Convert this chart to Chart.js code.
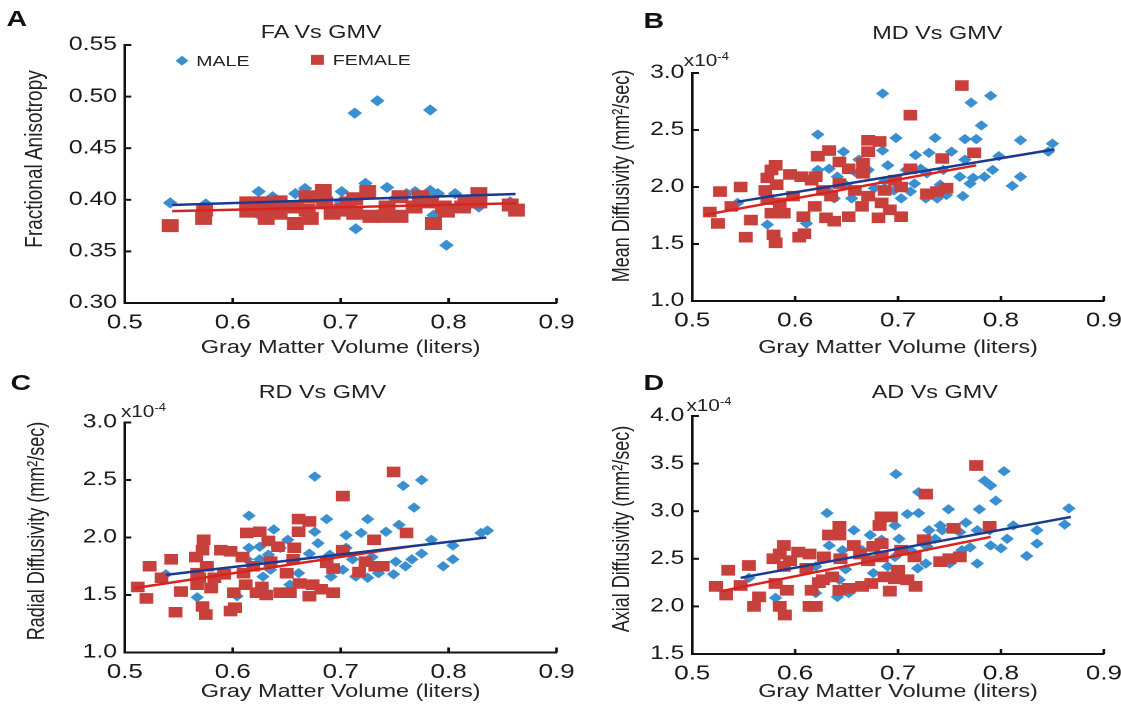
<!DOCTYPE html>
<html lang="en">
<head>
    <meta charset="UTF-8">
    <title>DTI metrics vs Gray Matter Volume</title>
    <script src="https://cdn.jsdelivr.net/npm/chart.js"></script>
    <style>
        html, body {
            margin: 0;
            padding: 0;
            background: #fff;
            overflow: hidden;
        }
        /* the original figure is stretched sideways, so draw narrow and widen */
        #fig {
            position: absolute;
            left: 0;
            top: 0;
            width: 862px;
            height: 708px;
            transform: scaleX(1.3);
            transform-origin: 0 0;
            font-family: 'Liberation Sans', Arial, sans-serif;
            color: #222;
        }
        .panel { position: absolute; }
        .letter {
            position: absolute;
            font-size: 22px;
            font-weight: bold;
            color: #111;
            line-height: 1;
        }
        .title {
            position: absolute;
            width: 200px;
            text-align: center;
            font-size: 18px;
            line-height: 1;
        }
        .ytitle {
            position: absolute;
            width: 300px;
            text-align: center;
            font-size: 18px;
            line-height: 1;
            white-space: nowrap;
            transform: translate(-50%, -50%) rotate(-90deg);
        }
        .expo {
            position: absolute;
            font-size: 16px;
            line-height: 1;
        }
        .expo sup { font-size: 10px; }
        .lg {
            position: absolute;
            font-size: 15px;
            line-height: 1;
        }
        .mk {
            position: absolute;
            font-family: 'DejaVu Sans', sans-serif;
            font-size: 13px;
            line-height: 1;
        }
    </style>
</head>
<body>
<div id="fig">
    <!-- Panels -->
    <div class="panel" style="left:0;top:0;width:450px;height:362px"><canvas id="chartA"></canvas></div>
    <div class="panel" style="left:430.8px;top:0;width:440px;height:362px"><canvas id="chartB"></canvas></div>
    <div class="panel" style="left:0;top:340px;width:450px;height:368px"><canvas id="chartC"></canvas></div>
    <div class="panel" style="left:430.8px;top:340px;width:440px;height:368px"><canvas id="chartD"></canvas></div>

    <!-- Letters and titles -->
    <div class="letter" style="left:5px;top:8px">A</div>
    <div class="letter" style="left:495px;top:10px">B</div>
    <div class="letter" style="left:8px;top:372px">C</div>
    <div class="letter" style="left:495px;top:372px">D</div>

    <div class="title" style="left:147px;top:23px">FA Vs GMV</div>
    <div class="title" style="left:621px;top:24px">MD Vs GMV</div>
    <div class="title" style="left:148px;top:383px">RD Vs GMV</div>
    <div class="title" style="left:619px;top:383px">AD Vs GMV</div>

    <!-- y axis titles -->
    <div class="ytitle" style="left:25.5px;top:159px;font-size:19px">Fractional Anisotropy</div>
    <div class="ytitle" style="left:477.5px;top:176px">Mean Diffusivity (mm²/sec)</div>
    <div class="ytitle" style="left:27.5px;top:531px">Radial Diffusivity (mm²/sec)</div>
    <div class="ytitle" style="left:477.5px;top:529px">Axial Diffusivity (mm²/sec)</div>

    <div class="expo" style="left:526px;top:52px">x10<sup>-4</sup></div>
    <div class="expo" style="left:93px;top:403px">x10<sup>-4</sup></div>
    <div class="expo" style="left:528px;top:397px">x10<sup>-4</sup></div>

    <!-- Legend of panel A -->
    <div class="mk" style="left:135px;top:53px;color:#3a8fd1">◆</div>
    <div class="lg" style="left:151px;top:53px">MALE</div>
    <div class="mk" style="left:238px;top:52px;color:#c8403c">■</div>
    <div class="lg" style="left:256px;top:52px">FEMALE</div>
</div>

<script>
    // ---- Panel A: FA vs GMV ----
    const maleFA = [
        [0.542, 0.397], [0.575, 0.396], [0.624, 0.408], [0.637, 0.403], [0.658, 0.406], [0.667, 0.411],
        [0.701, 0.408], [0.723, 0.416], [0.743, 0.412], [0.761, 0.406], [0.769, 0.408], [0.783, 0.409],
        [0.790, 0.406], [0.806, 0.406], [0.828, 0.393], [0.857, 0.398], [0.626, 0.384], [0.716, 0.389],
        [0.786, 0.385], [0.714, 0.372], [0.798, 0.356], [0.713, 0.484], [0.734, 0.496], [0.783, 0.487],
        [0.680, 0.400], [0.750, 0.401], [0.700, 0.398], [0.820, 0.400]
    ];
    const femaleFA = [
        [0.542, 0.375], [0.573, 0.382], [0.574, 0.390], [0.614, 0.397], [0.614, 0.389], [0.628, 0.397],
        [0.628, 0.389], [0.643, 0.398], [0.643, 0.387], [0.658, 0.393], [0.658, 0.377], [0.669, 0.403],
        [0.669, 0.390], [0.684, 0.409], [0.685, 0.397], [0.692, 0.387], [0.707, 0.397], [0.713, 0.401],
        [0.725, 0.408], [0.728, 0.384], [0.743, 0.393], [0.740, 0.384], [0.755, 0.403], [0.755, 0.384],
        [0.768, 0.393], [0.774, 0.403], [0.786, 0.377], [0.795, 0.393], [0.798, 0.389], [0.816, 0.398],
        [0.828, 0.406], [0.828, 0.398], [0.857, 0.395], [0.863, 0.390], [0.813, 0.393], [0.701, 0.390],
        [0.672, 0.382], [0.713, 0.387], [0.631, 0.382], [0.783, 0.398]
    ];
    const maleFitFA = [[0.544, 0.395], [0.862, 0.4056]];
    const femaleFitFA = [[0.544, 0.389], [0.863, 0.3966]];
    const faTicks = [0.30, 0.35, 0.40, 0.45, 0.50, 0.55];

    // ---- Panel B: MD vs GMV (x10^-4) ----
    const maleMD = [
        [0.685, 2.82], [0.790, 2.80], [0.771, 2.74], [0.781, 2.54], [0.622, 2.46], [0.698, 2.43],
        [0.736, 2.43], [0.765, 2.42], [0.776, 2.42], [0.819, 2.41], [0.850, 2.38], [0.846, 2.31],
        [0.647, 2.31], [0.685, 2.32], [0.662, 2.24], [0.690, 2.19], [0.717, 2.28], [0.730, 2.30],
        [0.752, 2.31], [0.765, 2.24], [0.798, 2.27], [0.622, 2.15], [0.633, 2.16], [0.641, 2.09],
        [0.660, 2.12], [0.671, 2.15], [0.708, 2.15], [0.722, 2.16], [0.728, 2.12], [0.744, 2.15],
        [0.760, 2.09], [0.773, 2.08], [0.784, 2.09], [0.792, 2.15], [0.819, 2.09], [0.811, 2.01],
        [0.716, 2.03], [0.741, 2.02], [0.747, 1.93], [0.763, 1.92], [0.738, 1.90], [0.727, 1.90],
        [0.712, 1.96], [0.696, 1.97], [0.687, 2.05], [0.649, 2.02], [0.638, 1.90], [0.633, 1.96],
        [0.614, 2.06], [0.611, 1.68], [0.573, 1.67], [0.544, 1.86], [0.655, 1.90], [0.703, 1.90],
        [0.770, 2.03], [0.677, 1.99]
    ];
    const femaleMD = [
        [0.762, 2.89], [0.712, 2.63], [0.671, 2.41], [0.682, 2.40], [0.633, 2.32], [0.622, 2.27],
        [0.671, 2.31], [0.774, 2.30], [0.743, 2.25], [0.581, 2.19], [0.577, 2.15], [0.595, 2.11],
        [0.606, 2.09], [0.573, 2.08], [0.620, 2.09], [0.643, 2.22], [0.652, 2.16], [0.666, 2.21],
        [0.666, 2.12], [0.712, 2.16], [0.697, 2.06], [0.703, 2.00], [0.643, 2.03], [0.627, 1.97],
        [0.616, 2.06], [0.582, 2.02], [0.571, 1.97], [0.573, 1.89], [0.585, 1.86], [0.547, 2.00],
        [0.527, 1.96], [0.538, 1.83], [0.517, 1.78], [0.525, 1.68], [0.552, 1.56], [0.579, 1.58],
        [0.581, 1.51], [0.604, 1.56], [0.609, 1.59], [0.557, 1.71], [0.577, 1.77], [0.589, 1.77],
        [0.608, 1.74], [0.619, 1.83], [0.630, 1.73], [0.638, 1.70], [0.652, 1.74], [0.665, 1.83],
        [0.671, 1.92], [0.681, 1.73], [0.684, 1.86], [0.692, 1.80], [0.703, 1.74], [0.658, 1.97],
        [0.598, 1.92], [0.728, 1.94], [0.738, 1.96], [0.747, 1.99], [0.687, 1.97], [0.635, 1.92]
    ];
    const maleFitMD = [[0.544, 1.87], [0.852, 2.33]];
    const femaleFitMD = [[0.512, 1.755], [0.776, 2.19]];

    // ---- Panel C: RD vs GMV (x10^-4) ----
    const maleRD = [
        [0.676, 2.53], [0.775, 2.50], [0.758, 2.45], [0.768, 2.26], [0.615, 2.19], [0.687, 2.16],
        [0.725, 2.16], [0.754, 2.11], [0.836, 2.06], [0.830, 2.04], [0.638, 2.07], [0.676, 2.05],
        [0.705, 2.02], [0.719, 2.04], [0.742, 2.05], [0.679, 1.95], [0.625, 1.92], [0.651, 1.98],
        [0.784, 1.98], [0.804, 1.93], [0.804, 1.81], [0.795, 1.75], [0.775, 1.86], [0.766, 1.81],
        [0.760, 1.75], [0.751, 1.79], [0.749, 1.68], [0.735, 1.69], [0.725, 1.65], [0.714, 1.66],
        [0.711, 1.81], [0.702, 1.72], [0.691, 1.66], [0.690, 1.85], [0.671, 1.86], [0.644, 1.91],
        [0.633, 1.85], [0.625, 1.81], [0.613, 1.81], [0.615, 1.91], [0.635, 1.72], [0.628, 1.66],
        [0.653, 1.59], [0.661, 1.69], [0.604, 1.49], [0.567, 1.48], [0.538, 1.68], [0.729, 1.83],
        [0.705, 1.91]
    ];
    const femaleRD = [
        [0.749, 2.57], [0.702, 2.36], [0.661, 2.16], [0.671, 2.14], [0.613, 2.04], [0.625, 2.05],
        [0.661, 2.05], [0.731, 1.98], [0.761, 2.04], [0.573, 1.98], [0.572, 1.89], [0.566, 1.83],
        [0.589, 1.89], [0.598, 1.88], [0.609, 1.83], [0.633, 1.97], [0.642, 1.92], [0.657, 1.91],
        [0.656, 1.81], [0.702, 1.89], [0.687, 1.78], [0.693, 1.73], [0.723, 1.79], [0.732, 1.75],
        [0.739, 1.75], [0.717, 1.70], [0.619, 1.75], [0.635, 1.79], [0.610, 1.69], [0.576, 1.75],
        [0.567, 1.69], [0.567, 1.59], [0.580, 1.56], [0.592, 1.68], [0.543, 1.81], [0.523, 1.75],
        [0.534, 1.65], [0.512, 1.57], [0.520, 1.47], [0.552, 1.53], [0.547, 1.35], [0.572, 1.40],
        [0.575, 1.33], [0.598, 1.36], [0.602, 1.39], [0.569, 1.65], [0.583, 1.65], [0.601, 1.52],
        [0.612, 1.59], [0.622, 1.52], [0.631, 1.50], [0.644, 1.52], [0.653, 1.52], [0.662, 1.60],
        [0.671, 1.49], [0.674, 1.59], [0.682, 1.55], [0.693, 1.52], [0.650, 1.69], [0.627, 1.57]
    ];
    const maleFitRD = [[0.538, 1.675], [0.835, 2.00]];
    const femaleFitRD = [[0.509, 1.56], [0.763, 1.92]];

    // ---- Panel D: AD vs GMV (x10^-4) ----
    const maleAD = [
        [0.698, 3.39], [0.803, 3.42], [0.784, 3.32], [0.790, 3.27], [0.795, 3.11], [0.720, 3.20],
        [0.631, 2.98], [0.709, 2.97], [0.720, 2.98], [0.749, 3.02], [0.779, 3.02], [0.866, 3.03],
        [0.862, 2.86], [0.766, 2.88], [0.697, 2.85], [0.657, 2.80], [0.673, 2.75], [0.701, 2.71],
        [0.730, 2.80], [0.741, 2.85], [0.743, 2.80], [0.760, 2.78], [0.777, 2.80], [0.789, 2.80],
        [0.812, 2.85], [0.835, 2.80], [0.806, 2.71], [0.835, 2.66], [0.800, 2.61], [0.825, 2.53],
        [0.777, 2.45], [0.790, 2.64], [0.770, 2.62], [0.762, 2.59], [0.750, 2.45], [0.728, 2.63],
        [0.727, 2.45], [0.712, 2.59], [0.697, 2.52], [0.665, 2.59], [0.676, 2.35], [0.649, 2.39],
        [0.646, 2.59], [0.633, 2.64], [0.643, 2.28], [0.641, 2.10], [0.652, 2.14], [0.620, 2.14],
        [0.581, 2.09], [0.555, 2.30], [0.620, 2.42], [0.690, 2.42], [0.719, 2.40], [0.684, 2.70],
        [0.736, 2.71]
    ];
    const femaleAD = [
        [0.776, 3.48], [0.727, 3.18], [0.684, 2.94], [0.693, 2.94], [0.682, 2.85], [0.643, 2.84],
        [0.633, 2.75], [0.643, 2.75], [0.754, 2.82], [0.789, 2.84], [0.725, 2.70], [0.684, 2.66],
        [0.676, 2.63], [0.657, 2.64], [0.589, 2.64], [0.585, 2.55], [0.603, 2.57], [0.614, 2.55],
        [0.628, 2.52], [0.579, 2.50], [0.595, 2.48], [0.589, 2.42], [0.644, 2.50], [0.663, 2.55],
        [0.671, 2.48], [0.684, 2.52], [0.703, 2.59], [0.716, 2.52], [0.741, 2.47], [0.750, 2.50],
        [0.760, 2.52], [0.535, 2.38], [0.555, 2.43], [0.523, 2.21], [0.533, 2.12], [0.547, 2.22],
        [0.565, 2.10], [0.560, 2.00], [0.585, 2.00], [0.590, 1.91], [0.614, 2.00], [0.620, 2.00],
        [0.581, 2.24], [0.592, 2.17], [0.616, 2.17], [0.627, 2.28], [0.636, 2.31], [0.643, 2.17],
        [0.652, 2.19], [0.665, 2.21], [0.674, 2.24], [0.687, 2.31], [0.692, 2.16], [0.700, 2.38],
        [0.709, 2.28], [0.717, 2.21], [0.697, 2.29], [0.611, 2.40], [0.623, 2.25]
    ];
    const maleFitAD = [[0.547, 2.30], [0.868, 2.94]];
    const femaleFitAD = [[0.528, 2.16], [0.790, 2.73]];

    const gmvTicks = [0.5, 0.6, 0.7, 0.8, 0.9];

    Chart.defaults.font.family = "'Liberation Sans', Arial, sans-serif";
    Chart.defaults.color = '#1a1a1a';

    // small tick marks pointing into the plot, like the original
    const innerTicks = {
        id: 'innerTicks',
        afterDraw(chart) {
            const { ctx, chartArea, scales } = chart;
            ctx.save();
            ctx.strokeStyle = '#111';
            ctx.lineWidth = 2;
            scales.x.ticks.forEach(t => {
                const px = scales.x.getPixelForValue(t.value);
                ctx.beginPath();
                ctx.moveTo(px, chartArea.bottom);
                ctx.lineTo(px, chartArea.bottom - 5);
                ctx.stroke();
            });
            scales.y.ticks.forEach(t => {
                const py = scales.y.getPixelForValue(t.value);
                ctx.beginPath();
                ctx.moveTo(chartArea.left, py);
                ctx.lineTo(chartArea.left + 5, py);
                ctx.stroke();
            });
            ctx.restore();
        }
    };

    const toPoints = arr => arr.map(p => ({ x: p[0], y: p[1] }));

    function buildPanel(id, p) {
        return new Chart(document.getElementById(id), {
            type: 'scatter',
            data: {
                datasets: [
                    {
                        label: 'MALE fit',
                        data: toPoints(p.maleFit),
                        showLine: true,
                        borderColor: '#1c3b8e',
                        borderWidth: 2.5,
                        pointRadius: 0,
                        order: 0
                    },
                    {
                        label: 'FEMALE fit',
                        data: toPoints(p.femaleFit),
                        showLine: true,
                        borderColor: '#d8231f',
                        borderWidth: 2.5,
                        pointRadius: 0,
                        order: 1
                    },
                    {
                        label: 'FEMALE',
                        data: toPoints(p.female),
                        pointStyle: 'rect',
                        pointRadius: p.sq,
                        pointHoverRadius: p.sq,
                        backgroundColor: '#c8403c',
                        borderColor: '#c8403c',
                        borderWidth: 0,
                        order: 2
                    },
                    {
                        label: 'MALE',
                        data: toPoints(p.male),
                        pointStyle: 'rectRot',
                        pointRadius: p.dia,
                        pointHoverRadius: p.dia,
                        backgroundColor: '#3a8fd1',
                        borderColor: '#3a8fd1',
                        borderWidth: 0,
                        order: 3
                    }
                ]
            },
            options: {
                responsive: true,
                maintainAspectRatio: false,
                animation: false,
                devicePixelRatio: 2,
                events: [],
                layout: {
                    autoPadding: false,
                    padding: p.pad
                },
                plugins: {
                    legend: { display: false },
                    tooltip: { enabled: false }
                },
                scales: {
                    x: {
                        type: 'linear',
                        min: gmvTicks[0],
                        max: gmvTicks[gmvTicks.length - 1],
                        grid: { display: false, drawTicks: false },
                        border: { display: true, color: '#111', width: 2 },
                        ticks: {
                            stepSize: 0.1,
                            padding: 8,
                            color: '#1a1a1a',
                            font: { size: 20 },
                            callback: v => v.toFixed(1)
                        },
                        title: {
                            display: true,
                            text: 'Gray Matter Volume (liters)',
                            color: '#222',
                            font: { size: 18 },
                            padding: 0
                        },
                        afterFit: s => { s.height = p.xh; }
                    },
                    y: {
                        type: 'linear',
                        min: p.yTicks[0],
                        max: p.yTicks[p.yTicks.length - 1],
                        grid: { display: false, drawTicks: false },
                        border: { display: true, color: '#111', width: 2 },
                        ticks: {
                            stepSize: p.yStep,
                            padding: 6,
                            color: '#1a1a1a',
                            font: { size: 19 },
                            callback: v => v.toFixed(p.yDec)
                        },
                        afterFit: s => { s.width = p.yw; }
                    }
                }
            },
            plugins: [innerTicks]
        });
    }

    buildPanel('chartA', {
        male: maleFA, female: femaleFA, maleFit: maleFitFA, femaleFit: femaleFitFA,
        yTicks: faTicks, yStep: 0.05, yDec: 2,
        sq: 9.2, dia: 5.6,
        pad: { left: 14, right: 17, top: 45, bottom: 3 }, yw: 82, xh: 56
    });

    buildPanel('chartB', {
        male: maleMD, female: femaleMD, maleFit: maleFitMD, femaleFit: femaleFitMD,
        yTicks: [1.0, 1.5, 2.0, 2.5, 3.0], yStep: 0.5, yDec: 1,
        sq: 7.5, dia: 5.2,
        pad: { left: 36, right: 15.4, top: 73, bottom: 3 }, yw: 65.5, xh: 58
    });

    buildPanel('chartC', {
        male: maleRD, female: femaleRD, maleFit: maleFitRD, femaleFit: femaleFitRD,
        yTicks: [1.0, 1.5, 2.0, 2.5, 3.0], yStep: 0.5, yDec: 1,
        sq: 7.5, dia: 5.2,
        pad: { left: 17, right: 20, top: 82.5, bottom: 5 }, yw: 79, xh: 50.5
    });

    buildPanel('chartD', {
        male: maleAD, female: femaleAD, maleFit: maleFitAD, femaleFit: femaleFitAD,
        yTicks: [1.5, 2.0, 2.5, 3.0, 3.5, 4.0], yStep: 0.5, yDec: 1,
        sq: 7.6, dia: 5.2,
        pad: { left: 36, right: 15.4, top: 76, bottom: 5 }, yw: 65.5, xh: 49
    });
</script>
</body>
</html>
